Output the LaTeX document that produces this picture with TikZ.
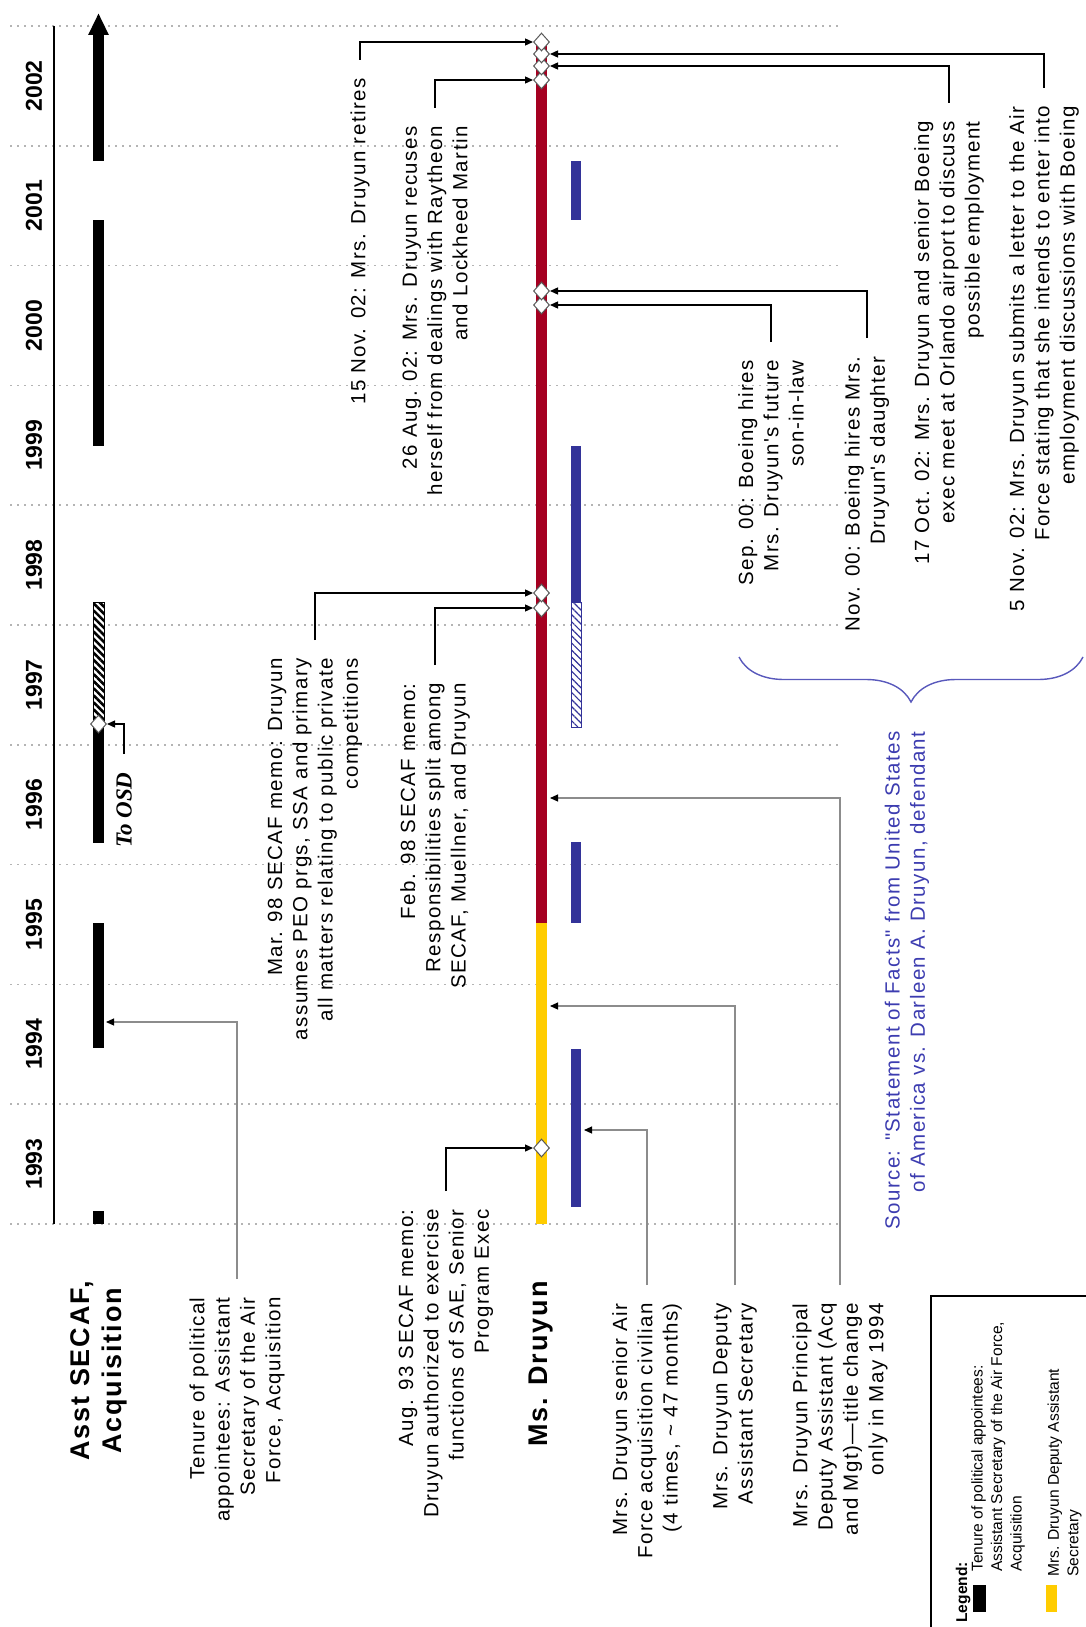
\documentclass[tikz,border=0pt]{standalone}
\usepackage{fontspec}
\setmainfont{Liberation Sans}
\newfontfamily\lblfont{Liberation Sans}[LetterSpace=7]
\newfontfamily\osdfont{Liberation Serif}
\usetikzlibrary{arrows.meta,shapes.geometric,patterns.meta,decorations.pathreplacing}
\definecolor{drured}{HTML}{A50021}
\definecolor{druyel}{HTML}{FFCC00}
\definecolor{drublue}{HTML}{333399}
\definecolor{srcblue}{HTML}{3C3CB0}
\definecolor{griddot}{HTML}{B4B4B4}
\begin{document}
\begin{tikzpicture}[x=.5pt, y=-.5pt,
    lbl/.style={rotate=90, anchor=east, align=right, inner sep=0pt, font=\lblfont\fontsize{10.25pt}{12.65pt}\selectfont},
    hdr/.style={rotate=90, anchor=east, align=center, inner sep=0pt, font=\lblfont\bfseries\fontsize{13.5pt}{16pt}\selectfont},
    yearlbl/.style={rotate=90, inner sep=0pt, font=\bfseries\fontsize{11.5pt}{13pt}\selectfont},
    legtxt/.style={rotate=90, anchor=west, align=left, inner sep=0pt, font=\fontsize{7.8pt}{9.75pt}\selectfont},
    event/.style={diamond, draw=black!65, fill=white, line width=.5pt, inner sep=0pt, minimum width=8pt, minimum height=9pt},
    conn/.style={line width=.65pt, shorten <=9pt, -{Triangle[length=4pt,width=3.5pt]}},
    grayconn/.style={line width=.55pt, draw=black!45, shorten <=9pt, -{Triangle[length=4pt,width=3.5pt,color=black]}}]
  \useasboundingbox (0,0) rectangle (1086,1627);
  \foreach \k in {0,...,10}
    \draw[griddot, line width=.75pt, dash pattern=on 1pt off 2.5pt] (10,{1224-119.8*\k}) -- (840,{1224-119.8*\k});
  \foreach \yy [count=\k from 0] in {1993,...,2002}
    \node[yearlbl] (y\yy) at (34,{1224-119.8*(\k+.5)}) {\yy};
  \draw[line width=.6pt] (54,26) -- (54,1224);

  \draw[line width=5.5pt, -{Triangle[length=11pt,width=9.5pt]}] (98.5,161) -- (98.5,13);
  \fill (93,220) rectangle (104,446);
  \draw[line width=.5pt, preaction={fill=white}, pattern={Lines[angle=-45,distance=2.5pt,line width=1.3pt]}] (93,602) rectangle (104,724);
  \fill (93,724) rectangle (104,843);
  \fill (93,923) rectangle (104,1048);
  \fill (93,1211) rectangle (104,1224);

  \fill[drured] (536,42) rectangle (547,923);
  \fill[druyel] (536,923) rectangle (547,1224);

  \fill[drublue] (571,161) rectangle (581,220);
  \fill[drublue] (571,446) rectangle (581,602);
  \draw[drublue, line width=.5pt, preaction={fill=white}, pattern={Lines[angle=-45,distance=2.5pt,line width=.6pt]}, pattern color=drublue] (571,602) rectangle (581,727);
  \fill[drublue] (571,842) rectangle (581,923);
  \fill[drublue] (571,1049) rectangle (581,1207);

  \node[event] (dOSD) at (98.5,724) {};
  \node[event] (d93) at (541.5,1148) {};
  \node[event] (d98b) at (541.5,608) {};
  \node[event] (d98a) at (541.5,593) {};
  \node[event] (d00b) at (541.5,305) {};
  \node[event] (d00a) at (541.5,291) {};
  \node[event] (d02d) at (541.5,80) {};
  \node[event] (d02c) at (541.5,66) {};
  \node[event] (d02b) at (541.5,54) {};
  \node[event] (d02a) at (541.5,42) {};

  \coordinate (tipTen) at (106,1022);
  \coordinate (tipSen) at (584,1130);
  \coordinate (tipDep) at (550,1006);
  \coordinate (tipPri) at (550,798);

  \node[hdr] (hdrAsst) at (99,1281) {Asst SECAF,\\Acquisition};
  \node[hdr] (hdrDru) at (541,1281) {Ms. Druyun};
  \node[lbl, font=\osdfont\bfseries\itshape\fontsize{11.5pt}{13pt}\selectfont] (lblOSD) at (124,772) {To OSD};

  \node[lbl] (lblTenure) at (237,1297) {Tenure of political\\appointees: Assistant\\Secretary of the Air\\Force, Acquisition};
  \node[lbl] (lblAug93) at (446,1209) {Aug. 93 SECAF memo:\\Druyun authorized to exercise\\functions of SAE, Senior\\Program Exec};
  \node[lbl] (lblSenior) at (647,1303) {Mrs. Druyun senior Air\\Force acquisition civilian\\(4 times, \textasciitilde{} 47 months)};
  \node[lbl] (lblDeputy) at (735,1303) {Mrs. Druyun Deputy\\Assistant Secretary};
  \node[lbl] (lblPrincipal) at (840,1303) {Mrs. Druyun Principal\\Deputy Assistant (Acq\\and Mgt)\textemdash title change\\only in May 1994};
  \node[lbl] (lblMar98) at (315,658) {Mar. 98 SECAF memo: Druyun\\assumes PEO prgs, SSA and primary\\all matters relating to public private\\competitions};
  \node[lbl] (lblFeb98) at (435,683) {Feb. 98 SECAF memo:\\Responsibilities split among\\SECAF, Muellner, and Druyun};
  \node[lbl] (lblRetire) at (360,78) {15 Nov. 02: Mrs. Druyun retires};
  \node[lbl] (lblRecuse) at (435,126) {26 Aug. 02: Mrs. Druyun recuses\\herself from dealings with Raytheon\\and Lockheed Martin};
  \node[lbl] (lblSep00) at (771,360) {Sep. 00: Boeing hires\\Mrs. Druyun's future\\son-in-law};
  \node[lbl] (lblNov00) at (867,356) {Nov. 00: Boeing hires Mrs.\\Druyun's daughter};
  \node[lbl] (lblOct02) at (949,121) {17 Oct. 02: Mrs. Druyun and senior Boeing\\exec meet at Orlando airport to discuss\\possible employment};
  \node[lbl] (lblNov02) at (1044,106) {5 Nov. 02: Mrs. Druyun submits a letter to the Air\\Force stating that she intends to enter into\\employment discussions with Boeing};
  \node[lbl, text=srcblue] (src) at (907,731) {Source: "Statement of Facts" from United States\\of America vs. Darleen A. Druyun, defendant};

  \draw[conn] (lblOSD.east) |- (dOSD.east);
  \draw[conn] (lblAug93.east) |- (d93.west);
  \draw[conn] (lblMar98.east) |- (d98a.west);
  \draw[conn] (lblFeb98.east) |- (d98b.west);
  \draw[conn] (lblRetire.east) |- (d02a.west);
  \draw[conn] (lblRecuse.east) |- (d02d.west);
  \draw[conn] (lblSep00.east) |- (d00b.east);
  \draw[conn] (lblNov00.east) |- (d00a.east);
  \draw[conn] (lblOct02.east) |- (d02c.east);
  \draw[conn] (lblNov02.east) |- (d02b.east);
  \draw[grayconn] (lblTenure.east) |- (tipTen);
  \draw[grayconn] (lblSenior.east) |- (tipSen);
  \draw[grayconn] (lblDeputy.east) |- (tipDep);
  \draw[grayconn] (lblPrincipal.east) |- (tipPri);

  \draw[srcblue!85, line width=.7pt, decorate, decoration={brace, amplitude=22.5pt}] (1083,657) -- (739,657);

  \draw[line width=1pt] (931,1296) rectangle (1100,1640);
  \node[rotate=90, anchor=west, inner sep=0pt, font=\bfseries\fontsize{7.8pt}{9.75pt}\selectfont] (legTitle) at (963,1623) {Legend:};
  \fill (973,1585) rectangle (986,1612);
  \node[legtxt] (legBlack) at (998,1572) {Tenure of political appointees:\\Assistant Secretary of the Air Force,\\Acquisition};
  \fill[druyel] (1046,1585) rectangle (1057,1612);
  \node[legtxt] (legYel) at (1064.5,1577) {Mrs. Druyun Deputy Assistant\\Secretary};
\end{tikzpicture}
\end{document}
